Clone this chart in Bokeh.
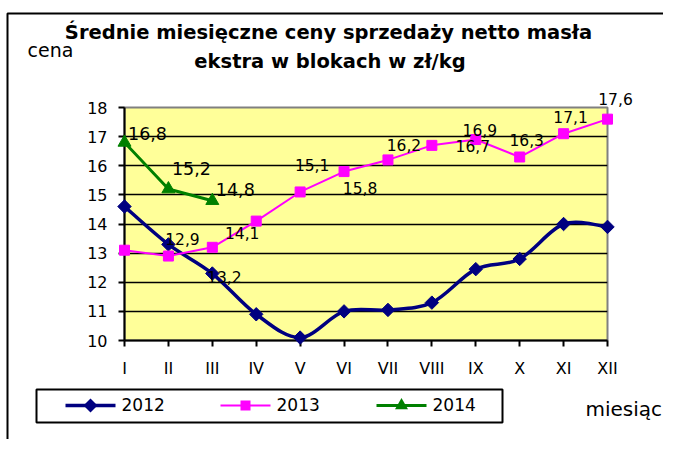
import numpy as np
from bokeh.plotting import figure
from bokeh.models import (Range1d, FixedTicker, ColumnDataSource)
from bokeh.core.properties import value
from bokeh.embed import file_html
from bokeh.resources import INLINE

# ---------------- data ----------------
months = ["I", "II", "III", "IV", "V", "VI", "VII", "VIII", "IX", "X", "XI", "XII"]
y2012 = [14.6, 13.3, 12.3, 10.9, 10.1, 11.0, 11.05, 11.3, 12.45, 12.8, 14.0, 13.9]
y2013 = [13.1, 12.9, 13.2, 14.1, 15.1, 15.8, 16.2, 16.7, 16.9, 16.3, 17.1, 17.6]
y2014 = [16.8, 15.2, 14.8]
y_ticks = [10, 11, 12, 13, 14, 15, 16, 17, 18]
series_names = ["2012", "2013", "2014"]
title_lines = ["Średnie miesięczne ceny sprzedaży netto masła",
               "ekstra w blokach w zł/kg"]
y_title = "cena"
x_title = "miesiąc"

# label placement (pixel offsets, style only)
off2013 = [None, (14, -17), (12, 30), (-14, 12), (12, -27), (16, 16), (16, -15),
           (41, 1), (4, -10), (7, -17), (7, -17), (8, -20)]
off2014 = [(23, -9), (23, -21), (23, -11)]

FONT = "DejaVu Sans"
NAVY, MAGENTA, GREEN = "#000080", "#FF00FF", "#008000"
COLORS = [NAVY, MAGENTA, GREEN]
LINE_W = [3.5, 2, 3]
MARKERS = [("square", np.pi / 4, 9.5), ("square", 0, 10), ("triangle", 0, 13)]
# legend marker outlines in pixels (x right, y down): x, lower edge, upper edge
LEG_SHAPES = [
    ([-7, 0, 7], [0, -7, 0], [0, 7, 0]),
    ([-5, 5], [-5, -5], [5, 5]),
    ([-6.5, 0, 6.5], [3.75, 3.75, 3.75], [3.75, -7.5, 3.75]),
]

# layout (pixels)
W, H = 663, 439
B_LEFT, B_RIGHT, B_TOP, B_BOTTOM = 124, 56, 107, 99
FW, FH = W - B_LEFT - B_RIGHT, H - B_TOP - B_BOTTOM
# legend layout, pixels relative to the plot area's bottom-left corner (y down)
LEG_BOX = (-88, 378, 49, 82)
LEG_GLYPH_X = [-59, 96, 252]
LEG_GLYPH_LEN = 50
LEG_Y = 65
LEG_TEXT_DX = 56
LEG_TEXT_BASE = 64

def fmt(v):
    return f"{v:.1f}".replace(".", ",")

p = figure(width=W, height=H, x_range=Range1d(0, len(months) - 1),
           y_range=Range1d(y_ticks[0], y_ticks[-1]),
           output_backend="svg", toolbar_location=None,
           min_border_left=B_LEFT, min_border_right=B_RIGHT,
           min_border_top=B_TOP, min_border_bottom=B_BOTTOM)
p.background_fill_color = "#FFFF99"
p.border_fill_color = "white"
p.outline_line_color = "#808080"
p.outline_line_width = 2

p.xgrid.visible = False
p.ygrid.ticker = FixedTicker(ticks=y_ticks[1:-1])
p.ygrid.grid_line_color = "black"
p.ygrid.grid_line_width = 1.6

p.yaxis.ticker = FixedTicker(ticks=y_ticks)
p.xaxis.ticker = FixedTicker(ticks=list(range(len(months))))
p.xaxis.major_label_overrides = {i: m for i, m in enumerate(months)}
for ax in (p.xaxis, p.yaxis):
    ax.axis_line_color = "black"
    ax.axis_line_width = 2
    ax.major_tick_line_color = "black"
    ax.major_tick_line_width = 2
    ax.major_tick_in = 0
    ax.major_tick_out = 6
    ax.minor_tick_line_color = None
    ax.major_label_text_font = FONT
    ax.major_label_text_font_size = "16px"
    ax.major_label_text_color = "black"
p.yaxis.major_label_standoff = 11
p.xaxis.major_label_standoff = 12

# pixel -> data helpers (for decorations outside the plot area)
ux = (p.x_range.end - p.x_range.start) / FW
uy = (p.y_range.end - p.y_range.start) / FH
x0, y0 = p.x_range.start, p.y_range.start

def px_x(dx):
    return x0 + dx * ux

def px_y(dy):
    return y0 - dy * uy

# ---------------- chart-area border (left and top edges) ----------------
bx = px_x(-(B_LEFT - 7))
by = px_y(-(FH + B_TOP - 13))
p.line([bx, bx, px_x(FW + 200)], [px_y(200), by, by],
       line_color="black", line_width=2, level="overlay")

# ---------------- 2012 (smoothed) ----------------
x = np.arange(len(months), dtype=float)
y = np.array(y2012, dtype=float)
xp = np.concatenate([[x[0]], x, [x[-1]]])
yp = np.concatenate([[y[0]], y, [y[-1]]])
seg = ColumnDataSource(dict(
    x0=xp[1:-2], y0=yp[1:-2], x1=xp[2:-1], y1=yp[2:-1],
    cx0=xp[1:-2] + (xp[2:-1] - xp[:-3]) / 6, cy0=yp[1:-2] + (yp[2:-1] - yp[:-3]) / 6,
    cx1=xp[2:-1] - (xp[3:] - xp[1:-2]) / 6, cy1=yp[2:-1] - (yp[3:] - yp[1:-2]) / 6,
))
p.bezier(x0="x0", y0="y0", x1="x1", y1="y1", cx0="cx0", cy0="cy0", cx1="cx1", cy1="cy1",
         source=seg, line_color=NAVY, line_width=LINE_W[0], line_cap="round")

# ---------------- 2013 / 2014 ----------------
x13 = list(range(len(y2013)))
p.line(x13, y2013, line_color=MAGENTA, line_width=LINE_W[1])
x14 = list(range(len(y2014)))
p.line(x14, y2014, line_color=GREEN, line_width=LINE_W[2])

for xs, ys, c, (mk, ang, sz) in zip([x, x13, x14], [y2012, y2013, y2014], COLORS, MARKERS):
    p.scatter(xs, ys, marker=mk, angle=ang, size=sz, fill_color=c, line_color=c, level="overlay")

# data labels
idx13 = [i for i, o in enumerate(off2013) if o is not None]
lab13 = ColumnDataSource(dict(
    x=[x13[i] for i in idx13], y=[y2013[i] for i in idx13],
    t=[fmt(y2013[i]) for i in idx13],
    dx=[off2013[i][0] for i in idx13], dy=[off2013[i][1] for i in idx13]))
p.text(x="x", y="y", text="t", x_offset="dx", y_offset="dy", source=lab13,
       text_font=value(FONT), text_font_size="15.5px", text_color="black",
       text_align="center", text_baseline="middle", level="overlay")
lab14 = ColumnDataSource(dict(
    x=x14, y=y2014, t=[fmt(v) for v in y2014],
    dx=[o[0] for o in off2014], dy=[o[1] for o in off2014]))
p.text(x="x", y="y", text="t", x_offset="dx", y_offset="dy", source=lab14,
       text_font=value(FONT), text_font_size="17.5px", text_color="black",
       text_align="center", text_baseline="middle", level="overlay")

# ---------------- titles (anchored at the plot-area corner, pixel offsets) ----------------
def caption(txt, dx, dy, align, size, bold=False):
    p.text(x=[x0], y=[y0], text=[txt], x_offset=dx, y_offset=dy,
           text_align=align, text_baseline="alphabetic", text_font=value(FONT),
           text_font_style="bold" if bold else "normal", text_font_size=size,
           text_color="black", level="overlay")

caption(title_lines[0], 204, -308.5, "center", "19.5px", True)
caption(title_lines[1], 205.5, -279, "center", "19.5px", True)
caption(y_title, -97, -291, "left", "19px")
caption(x_title, 461, 68, "left", "20px")

# ---------------- legend (below the plot area) ----------------
l, r, t, b = LEG_BOX
p.quad(left=[px_x(l)], right=[px_x(r)], top=[px_y(t)], bottom=[px_y(b)],
       fill_alpha=0, line_color="black", line_width=2, level="overlay")
for gx, name, c, lw, (sx, sy1, sy2) in zip(LEG_GLYPH_X, series_names, COLORS, LINE_W, LEG_SHAPES):
    p.segment(x0=[px_x(gx)], y0=[px_y(LEG_Y)], x1=[px_x(gx + LEG_GLYPH_LEN)], y1=[px_y(LEG_Y)],
              line_color=c, line_width=lw, level="overlay")
    cx = gx + LEG_GLYPH_LEN / 2
    p.varea(x=[px_x(cx + dx) for dx in sx],
            y1=[px_y(LEG_Y + dy) for dy in sy1],
            y2=[px_y(LEG_Y + dy) for dy in sy2],
            fill_color=c, level="overlay")
    caption(name, gx + LEG_TEXT_DX, LEG_TEXT_BASE, "left", "17px")

open("out.html", "w").write(file_html(p, INLINE))
